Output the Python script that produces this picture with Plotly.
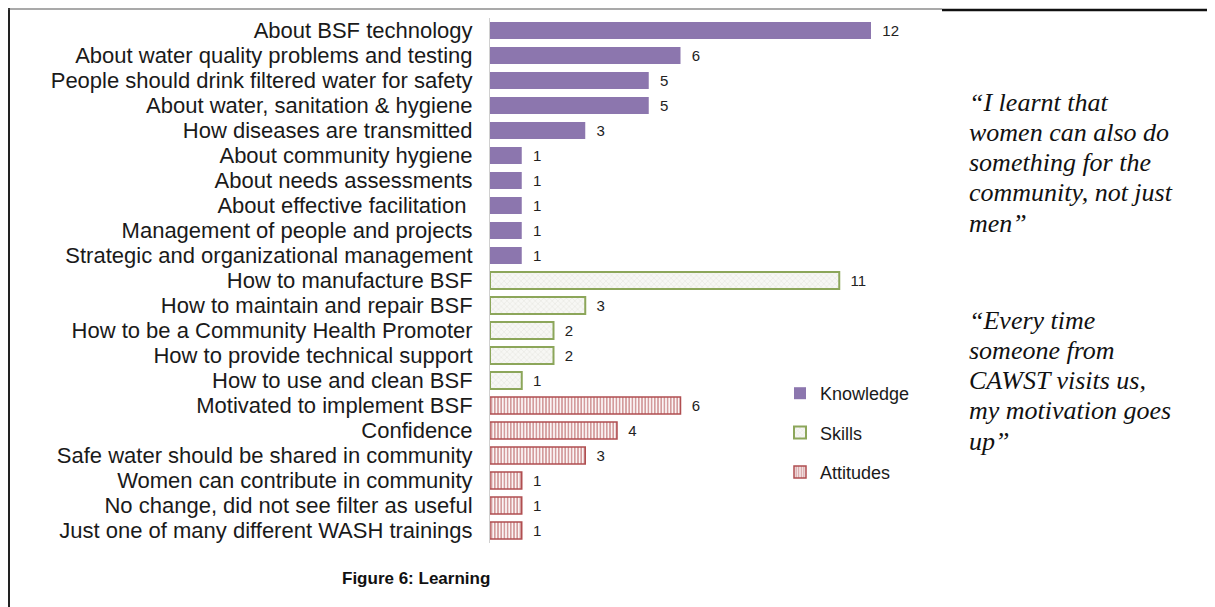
import plotly.graph_objects as go

# data
knowledge_cats = [
    "About BSF technology",
    "About water quality problems and testing",
    "People should drink filtered water for safety",
    "About water, sanitation & hygiene",
    "How diseases are transmitted",
    "About community hygiene",
    "About needs assessments",
    "About effective facilitation ",
    "Management of people and projects",
    "Strategic and organizational management",
]
knowledge_vals = [12, 6, 5, 5, 3, 1, 1, 1, 1, 1]

skills_cats = [
    "How to manufacture BSF",
    "How to maintain and repair BSF",
    "How to be a Community Health Promoter",
    "How to provide technical support",
    "How to use and clean BSF",
]
skills_vals = [11, 3, 2, 2, 1]

attitudes_cats = [
    "Motivated to implement BSF",
    "Confidence",
    "Safe water should be shared in community",
    "Women can contribute in community",
    "No change, did not see filter as useful",
    "Just one of many different WASH trainings",
]
attitudes_vals = [6, 4, 3, 1, 1, 1]

quote_1 = ["\u201cI learnt that", "women can also do", "something for the",
           "community, not just", "men\u201d"]
quote_2 = ["\u201cEvery time", "someone from", "CAWST visits us,",
           "my motivation goes", "up\u201d"]
caption = "Figure 6: Learning"

# the page has an 8px body margin, so the figure starts at (8, 8)
OFF = 8
W, H = 1215 - OFF, 607 - OFF
L, R, T, B = 490 - OFF, 1215 - 940, 18 - OFF, 607 - 543
pw, ph = W - L - R, H - T - B


def px_x(x):
    # page pixel -> paper coordinate
    return (x - OFF - L) / pw


def px_y(y):
    return (H - B - (y - OFF)) / ph


all_cats = knowledge_cats + skills_cats + attitudes_cats

fig = go.Figure()
bar_w = 0.68
val_font = dict(size=15, color="#222222")
fig.add_trace(go.Bar(
    y=knowledge_cats, x=knowledge_vals, orientation="h", name="Knowledge",
    legendgroup="k", width=bar_w,
    marker=dict(color="#8c76ae", line=dict(width=0)),
    texttemplate="\u00a0\u00a0%{x}", textposition="outside", cliponaxis=False,
    textfont=val_font,
))
fig.add_trace(go.Bar(
    y=skills_cats, x=skills_vals, orientation="h", name="Skills",
    legendgroup="s", width=bar_w,
    marker=dict(color="#f4f4f0", line=dict(width=2, color="#8ca65a"),
                pattern=dict(shape="x", fgcolor="#c4c4bc", bgcolor="#f7f7f4",
                             size=4, solidity=0.2)),
    texttemplate="\u00a0\u00a0%{x}", textposition="outside", cliponaxis=False,
    textfont=val_font,
))
fig.add_trace(go.Bar(
    y=attitudes_cats, x=attitudes_vals, orientation="h", name="Attitudes",
    legendgroup="a", width=bar_w,
    marker=dict(color="#ffffff", line=dict(width=1.5, color="#b04e50"),
                pattern=dict(shape="|", fgcolor="#a8383a", bgcolor="#ffffff",
                             size=3.2, solidity=0.55)),
    texttemplate="\u00a0\u00a0%{x}", textposition="outside", cliponaxis=False,
    textfont=val_font,
))

fig.update_yaxes(
    categoryorder="array", categoryarray=all_cats, autorange="reversed",
    tickmode="linear", tick0=0, dtick=1,
    showline=True, linecolor="#d0d0d0", linewidth=1, ticks="",
    ticklabelstandoff=12, tickfont=dict(size=22, color="#1a1a1a"),
    showgrid=False, zeroline=False,
)
fig.update_xaxes(
    range=[0, pw / 31.75], showticklabels=False, showgrid=False,
    zeroline=False, showline=False, ticks="",
)

anns = []
for i, line in enumerate(quote_1):
    anns.append(dict(x=px_x(967), y=px_y(102 + 30.3 * i), text=line))
for i, line in enumerate(quote_2):
    anns.append(dict(x=px_x(967), y=px_y(320 + 30.3 * i), text=line))
for a in anns:
    a.update(xref="paper", yref="paper", xanchor="left", yanchor="middle",
             showarrow=False,
             font=dict(family="Liberation Serif", size=26, color="#111111",
                       style="italic"))
    fig.add_annotation(**a)

fig.add_annotation(
    x=px_x(416), y=px_y(578), xref="paper", yref="paper", text="<b>" + caption + "</b>",
    showarrow=False, xanchor="center", yanchor="middle",
    font=dict(family="Liberation Sans", size=17, color="#111111"),
)

# page border lines
fig.add_shape(type="line", xref="paper", yref="paper",
              x0=px_x(9), x1=px_x(9), y0=px_y(8), y1=px_y(607),
              line=dict(color="#222222", width=2))
fig.add_shape(type="line", xref="paper", yref="paper",
              x0=px_x(8), x1=px_x(942), y0=px_y(9), y1=px_y(9),
              line=dict(color="#555555", width=1.2))
fig.add_shape(type="line", xref="paper", yref="paper",
              x0=px_x(942), x1=px_x(1215), y0=px_y(10), y1=px_y(10),
              line=dict(color="#111111", width=2.5))

fig.update_layout(
    width=W, height=H, barmode="overlay",
    margin=dict(l=L, r=R, t=T, b=B, autoexpand=False),
    paper_bgcolor="white", plot_bgcolor="white",
    font=dict(family="Liberation Sans", color="#1a1a1a"),
    legend=dict(x=px_x(780), y=px_y(375), xanchor="left", yanchor="top",
                font=dict(size=18), tracegroupgap=13, bgcolor="rgba(0,0,0,0)"),
)

fig.write_html("out.html")
